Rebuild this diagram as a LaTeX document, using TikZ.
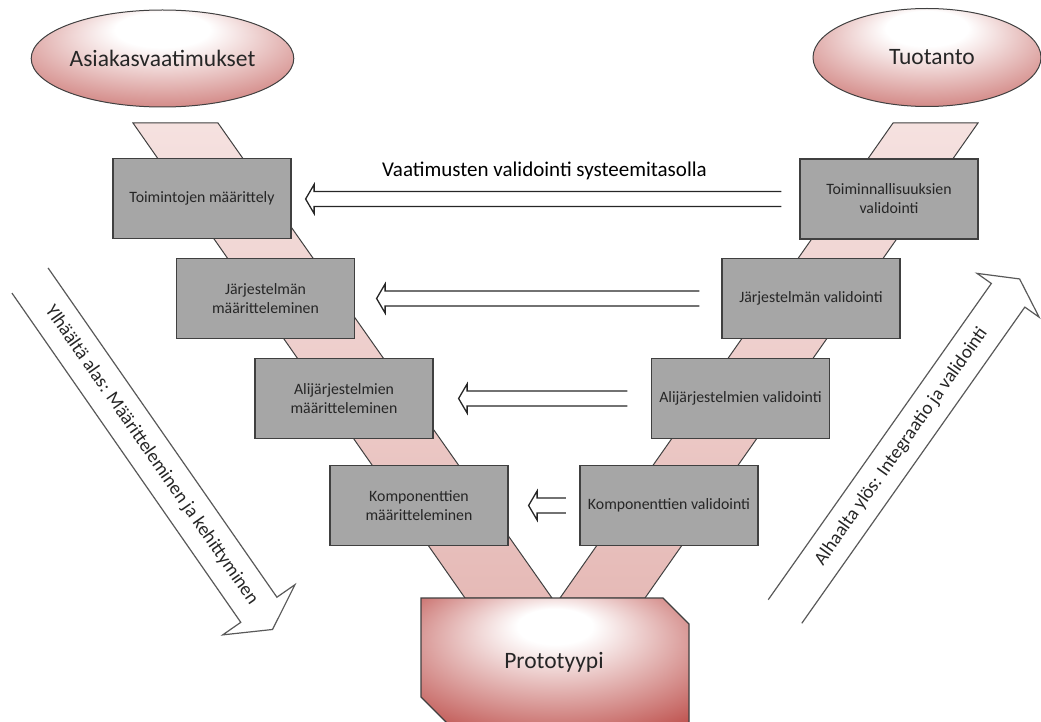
\documentclass[tikz,border=0pt]{standalone}
\usepackage{fontspec}
\setmainfont{Carlito}
\usetikzlibrary{shapes.geometric, calc}

\definecolor{boxgray}{RGB}{166,166,166}
\definecolor{edgegray}{RGB}{64,64,64}
\definecolor{vred}{RGB}{186,70,66}
\definecolor{bandhi}{RGB}{253,245,244}
\definecolor{bandlo}{RGB}{222,166,162}
\definecolor{txtgray}{RGB}{38,38,38}

\pgfdeclareradialshading{bubble}{\pgfpoint{0bp}{18bp}}{color(0bp)=(white); color(9bp)=(white); color(45bp)=(vred); color(50bp)=(vred)}
\pgfdeclareradialshading{blockfade}{\pgfpoint{0bp}{16bp}}{color(0bp)=(white); color(7bp)=(white); color(40bp)=(vred); color(50bp)=(vred)}
\pgfdeclareverticalshading{bandfade}{100bp}{color(0bp)=(bandlo); color(100bp)=(bandhi)}

\begin{document}
\begin{tikzpicture}[x=1pt, y=-1pt]
            \tikzset{box/.style = {draw=edgegray, line width=1.2pt, fill=boxgray, text=txtgray,
                minimum width=178pt, minimum height=80pt, inner sep=0pt, align=center,
                font=\fontsize{15.8}{19}\selectfont}}
            \tikzset{goal/.style = {ellipse, draw=edgegray, line width=1pt, shading=bubble,
                inner sep=0pt, text=txtgray, font=\fontsize{23.5}{28}\selectfont}}
            \tikzset{band/.style = {draw=edgegray, line width=1pt, shading=bandfade}}
            \tikzset{bigarrow/.style = {draw=black!65, line width=1.2pt, line join=miter}}
            \tikzset{backarrow/.style 2 args = {draw=black!85, line width=1.3pt,
                to path={let \p1=(\tikztostart), \p2=(\tikztotarget) in
                    (\x1-#1,\y1+7.5pt) -- (\x2+#2+8.5pt,\y1+7.5pt) -- (\x2+#2+8.5pt,\y1+14.5pt)
                    -- (\x2+#2,\y1) -- (\x2+#2+8.5pt,\y1-14.5pt) -- (\x2+#2+8.5pt,\y1-7.5pt)
                    -- (\x1-#1,\y1-7.5pt)}}}

            \useasboundingbox (0,0) rectangle (1041,722);

            % the two legs of the V
            \draw[band] (133,123) -- (218,123) -- (552,598) -- (465,598) -- cycle;
            \draw[band] (893,123) -- (978,123) -- (645,598) -- (560,598) -- cycle;

            \node[goal, minimum width=235pt, minimum height=97pt] (cust) at (162.5,58.5) {Asiakasvaatimukset};
            \node[goal, minimum width=228pt, minimum height=98pt] (prod) at (927,57.5) {\hspace{10pt}Tuotanto};

            \node[box] (d1) at (202,198.5) {Toimintojen määrittely};
            \node[box] (d2) at (265.5,298.5) {Järjestelmän\\määritteleminen};
            \node[box] (d3) at (344,398.5) {Alijärjestelmien\\määritteleminen};
            \node[box] (d4) at (419,505.5) {Komponenttien\\määritteleminen};

            \node[box] (v1) at (889,199) {Toiminnallisuuksien\\validointi};
            \node[box] (v2) at (811,298.5) {Järjestelmän validointi};
            \node[box] (v3) at (740.5,398.5) {Alijärjestelmien validointi};
            \node[box] (v4) at (669,505.5) {Komponenttien validointi};

            % prototype at the bottom
            \draw[draw=edgegray, line width=1.2pt, shading=blockfade]
                (421,598) -- (663,598) -- (689,624) -- (689,725) -- (449,725) -- (421,697) -- cycle;
            \node[text=txtgray, font=\fontsize{23.5}{28}\selectfont] (proto) at (554,662) {Prototyypi};

            % validation arrows
            \node[font=\fontsize{21}{25}\selectfont] (title) at (544.5,171) {Vaatimusten validointi systeemitasolla};
            \draw[backarrow={18pt}{14pt}] (v1.west) to (d1.east);
            \draw[backarrow={22pt}{21.5pt}] (v2.west) to (d2.east);
            \draw[backarrow={23.5pt}{25pt}] (v3.west) to (d3.east);
            \draw[backarrow={13.5pt}{20pt}] (v4.west) to (d4.east);

            \begin{scope}[shift={(30,280.5)}, rotate=-55.2]
                \draw[bigarrow] (0,-22) -- (401,-22) -- (401,-44) -- (425,0) -- (401,44) -- (401,22) -- (0,22);
                \node[rotate=-55.2, text=txtgray, font=\fontsize{19}{23}\selectfont] (down) at (213,0)
                    {Ylhäältä alas: Määritteleminen ja kehittyminen};
            \end{scope}

            \begin{scope}[shift={(785,611.5)}, rotate=54.8]
                \draw[bigarrow] (0,-20.5) -- (387,-20.5) -- (387,-38) -- (407,0) -- (387,38) -- (387,20.5) -- (0,20.5);
                \node[rotate=54.8, text=txtgray, font=\fontsize{19}{23}\selectfont] (up) at (202,0)
                    {Alhaalta ylös: Integraatio ja validointi};
            \end{scope}

        \end{tikzpicture}
\end{document}
